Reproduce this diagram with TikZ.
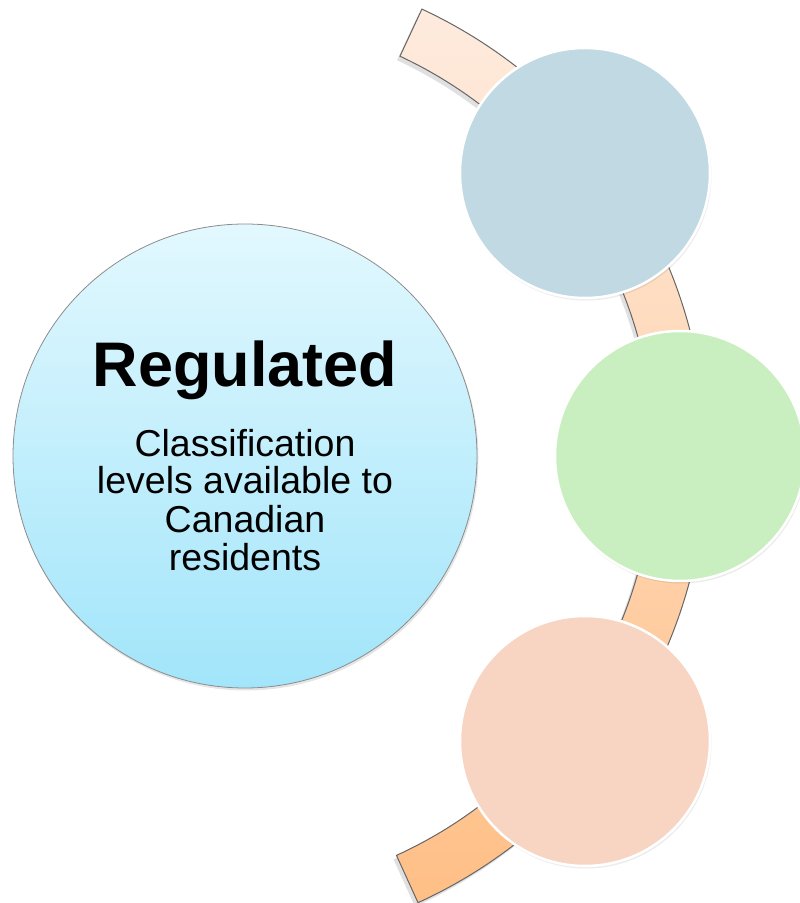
\documentclass[tikz,border=0pt]{standalone}
\usepackage{fontspec}
\setmainfont{Liberation Sans}
\usetikzlibrary{calc}
\definecolor{bigtop}{HTML}{E2F8FE}
\definecolor{bigbot}{HTML}{A2E5FA}
\definecolor{arctop}{HTML}{FEEBDE}
\definecolor{arcbot}{HTML}{FFBF86}
\definecolor{cblue}{HTML}{C1D9E2}
\definecolor{cgreen}{HTML}{C9EFC0}
\definecolor{cpeach}{HTML}{F8D5C3}
\tikzset{
  smallcirc/.style={circle, minimum size=250pt, inner sep=0pt, draw=white, line width=2.5pt},
  circshadow/.style={circle, minimum size=251pt, inner sep=0pt, fill=black, fill opacity=0.08},
  bodytext/.style={anchor=base, inner sep=0pt, font=\fontsize{37.5}{38}\selectfont},
}
\begin{document}
\begin{tikzpicture}[x=1pt, y=1pt]
\useasboundingbox (0,0) rectangle (800,903);
\coordinate (C) at (214,448);
% arc shadow
\fill[black, opacity=0.12, shift={(-3,-4)}]
  ([shift={(214,448)}]65:492pt) arc[start angle=65, end angle=-65.5, radius=492pt]
  -- ([shift={(214,448)}]-65.5:440pt) arc[start angle=-65.5, end angle=65, radius=440pt] -- cycle;
% arc band
\draw[draw=black!60, line width=1pt, top color=arctop, bottom color=arcbot]
  ([shift={(214,448)}]65:492pt) arc[start angle=65, end angle=-65.5, radius=492pt]
  -- ([shift={(214,448)}]-65.5:440pt) arc[start angle=-65.5, end angle=65, radius=440pt] -- cycle;
% small circle shadows
\node[circshadow] (s1) at (586,728) {};
\node[circshadow] (s2) at (681,445) {};
\node[circshadow] (s3) at (586,160) {};
% small circles
\node[smallcirc, fill=cblue] (c1) at (585,730) {};
\node[smallcirc, fill=cgreen] (c2) at (680,447) {};
\node[smallcirc, fill=cpeach] (c3) at (585,162) {};
% big circle
\node[circle, minimum size=465pt, inner sep=0pt, fill=black, fill opacity=0.10] (bs) at (246,445) {};
\node[circle, minimum size=464pt, inner sep=0pt, draw=black!45, line width=0.8pt,
      top color=bigtop, bottom color=bigbot] (big) at (245,447) {};
\node[anchor=base, inner sep=0pt, font=\fontsize{63}{70}\selectfont\bfseries] (title) at (245,516) {Regulated};
\node[bodytext] (l1) at (245,446) {Classification};
\node[bodytext] (l2) at (245,409) {levels available to};
\node[bodytext] (l3) at (245,370) {Canadian};
\node[bodytext] (l4) at (245,332) {residents};
\end{tikzpicture}
\end{document}
